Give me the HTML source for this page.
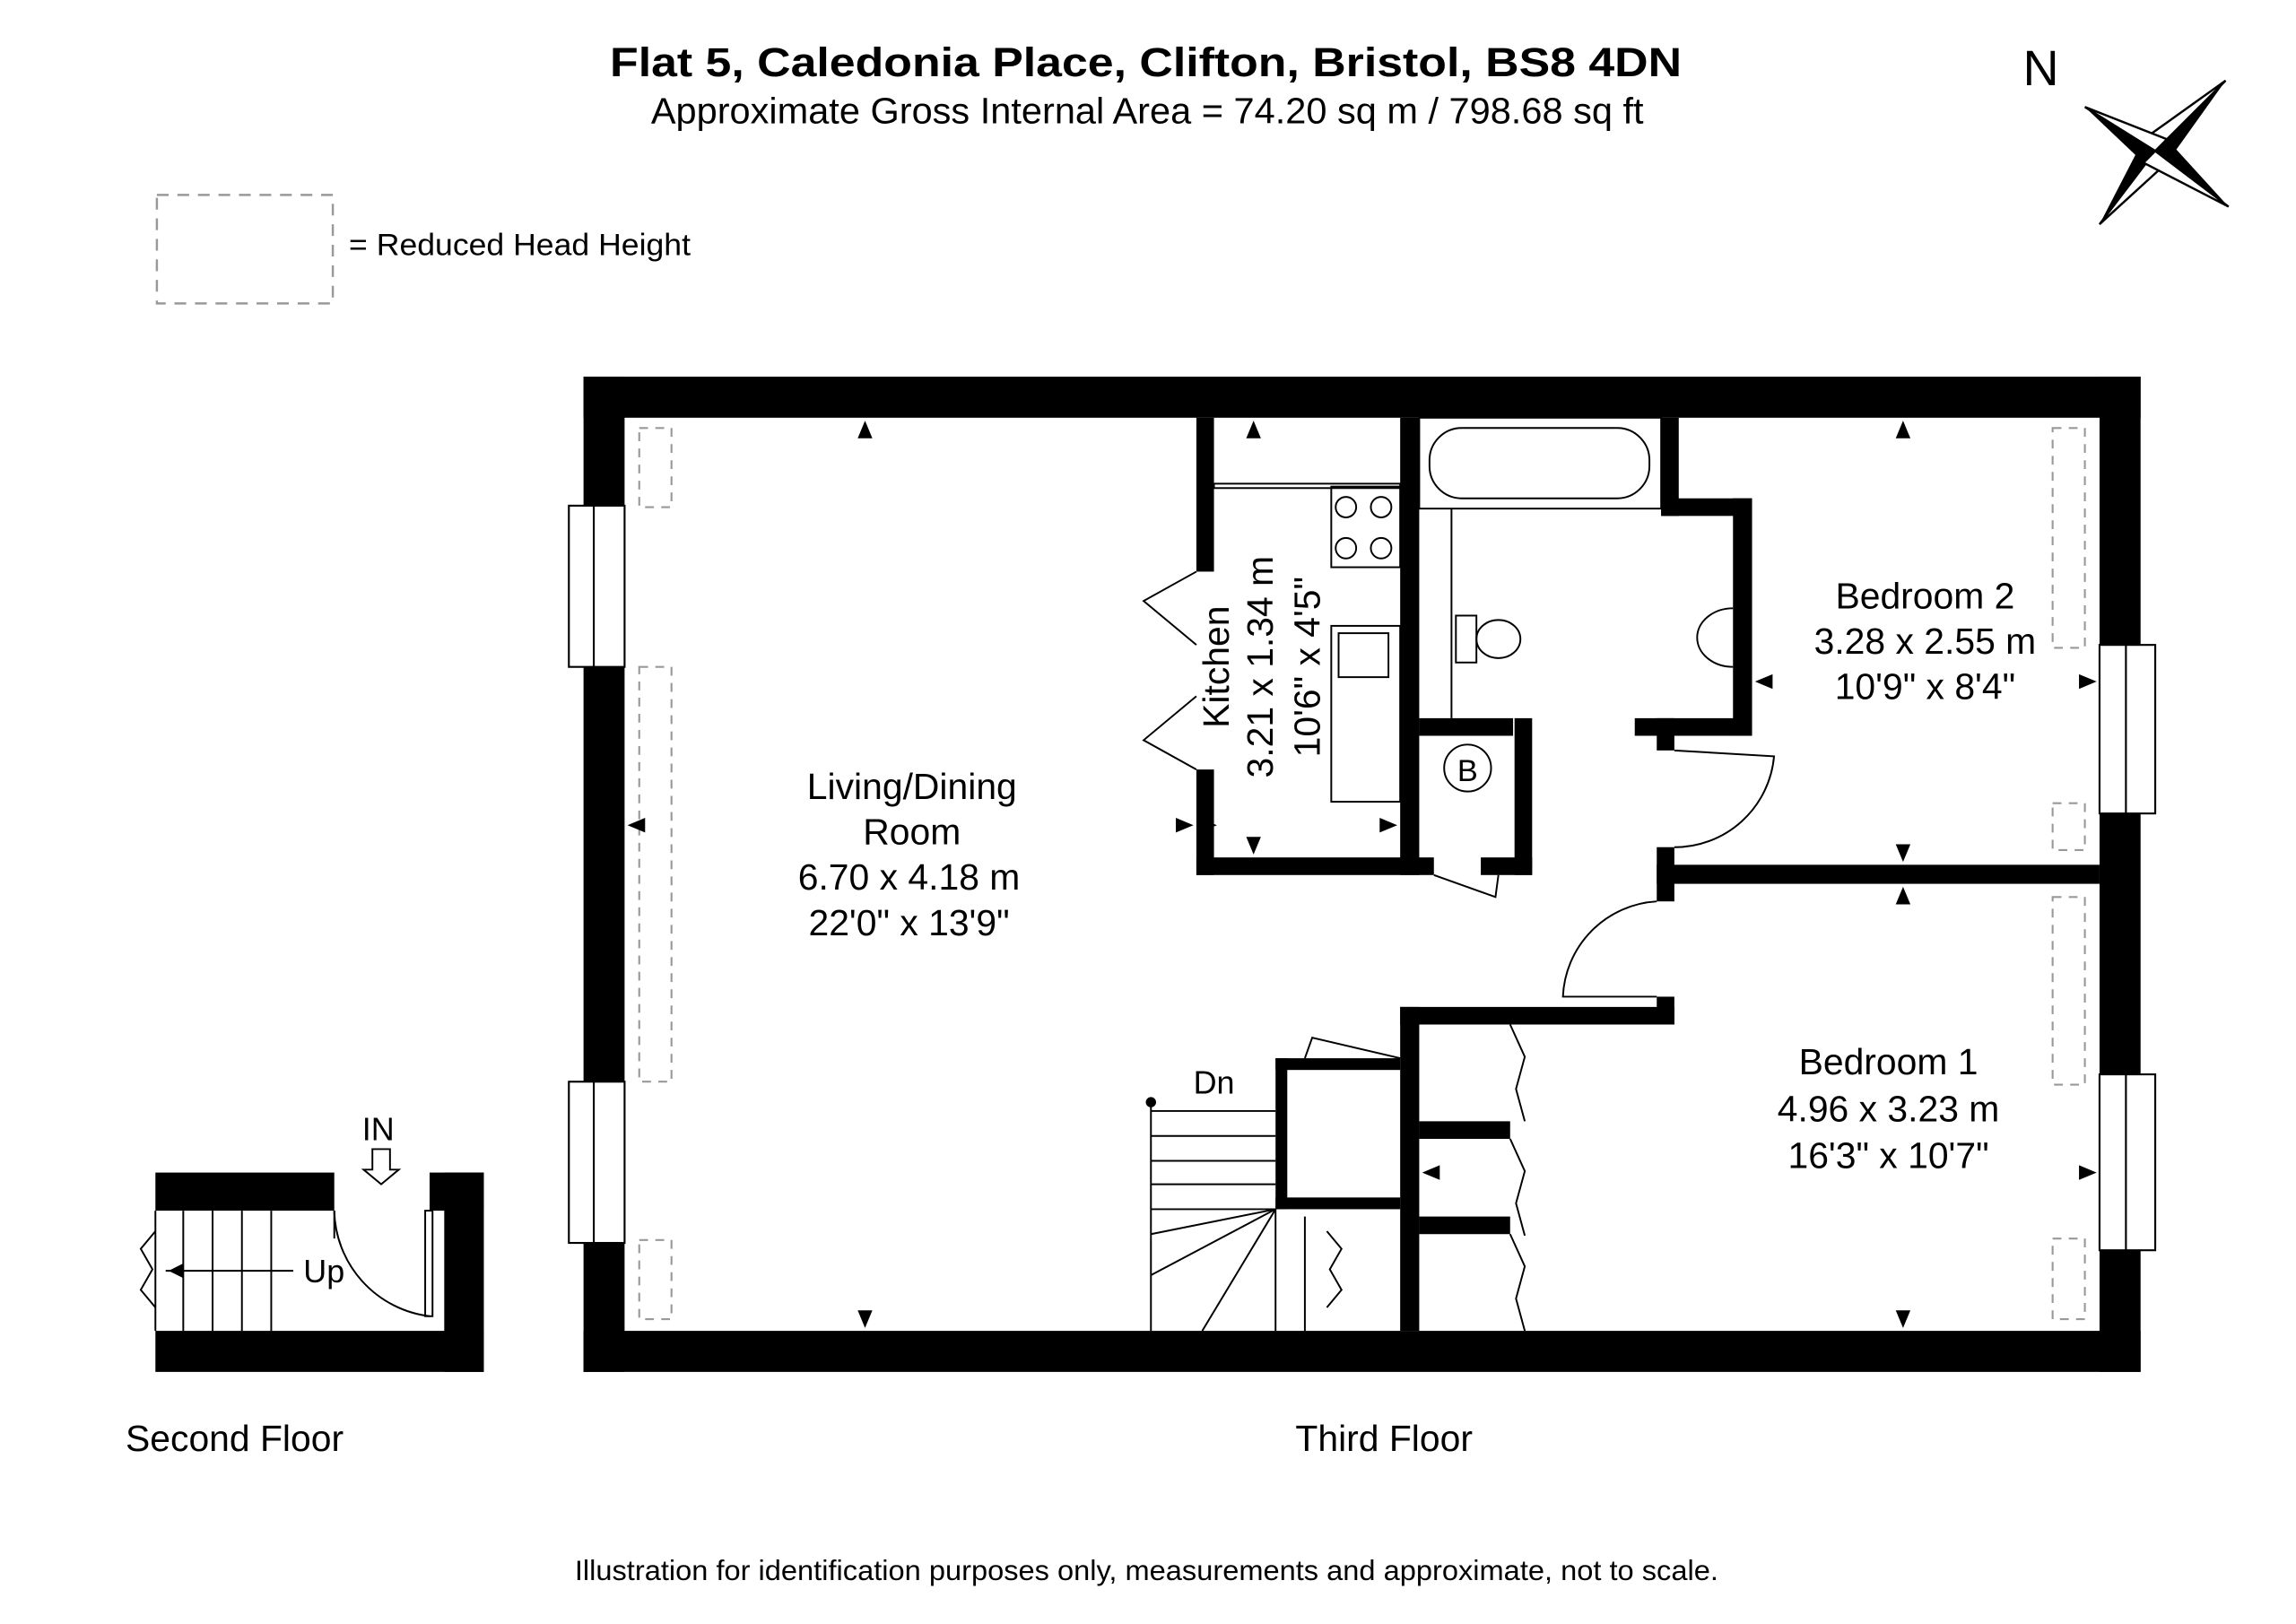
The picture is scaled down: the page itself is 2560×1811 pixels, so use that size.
<!DOCTYPE html>
<html><head><meta charset="utf-8"><style>
html,body{margin:0;padding:0;background:#fff;}
svg{display:block;}
text{font-family:"Liberation Sans",sans-serif;fill:#000;}
</style></head><body>
<svg width="2560" height="1811" viewBox="0 0 1566 1108" preserveAspectRatio="none" xmlns="http://www.w3.org/2000/svg">
<rect width="1566" height="1108" fill="#fff"/>
<text x="416" y="52" font-size="28" font-weight="bold" textLength="731" lengthAdjust="spacingAndGlyphs">Flat 5, Caledonia Place, Clifton, Bristol, BS8 4DN</text>
<text x="444" y="84" font-size="25" textLength="677" lengthAdjust="spacingAndGlyphs">Approximate Gross Internal Area = 74.20 sq m / 798.68 sq ft</text>
<text x="1392" y="58" font-size="34" text-anchor="middle">N</text>
<g transform="translate(1470,103)">
<polygon points="0,0 48,-48 8,8" fill="#000"/><polygon points="0,0 48,-48 -8,-8" fill="#fff" stroke="#000" stroke-width="1.5"/>
<polygon points="0,0 -38,50 -8,-8" fill="#000"/><polygon points="0,0 -38,50 8,8" fill="#fff" stroke="#000" stroke-width="1.5"/>
<polygon points="0,0 -48,-30 -8,8" fill="#000"/><polygon points="0,0 -48,-30 8,-8" fill="#fff" stroke="#000" stroke-width="1.5"/>
<polygon points="0,0 50,38 8,-8" fill="#000"/><polygon points="0,0 50,38 -8,8" fill="#fff" stroke="#000" stroke-width="1.5"/>
</g>
<rect x="107" y="133" width="120" height="74" fill="none" stroke="#999" stroke-width="1.5" stroke-dasharray="8,6"/>
<text x="238" y="174" font-size="21" textLength="233" lengthAdjust="spacingAndGlyphs">=  Reduced Head Height</text>

<g fill="#000">
<rect x="398" y="257" width="1062" height="28"/>
<rect x="398" y="908" width="1062" height="28"/>
<rect x="398" y="257" width="28" height="88"/>
<rect x="398" y="455" width="28" height="283"/>
<rect x="398" y="848" width="28" height="88"/>
<rect x="1432" y="257" width="28" height="183"/>
<rect x="1432" y="555" width="28" height="178"/>
<rect x="1432" y="853" width="28" height="83"/>
<rect x="816" y="285" width="12" height="105"/>
<rect x="816" y="525" width="12" height="72"/>
<rect x="816" y="585" width="162" height="12"/>
<rect x="955" y="285" width="13" height="312"/>
<rect x="968" y="490" width="64" height="12"/>
<rect x="1115" y="490" width="80" height="12"/>
<rect x="1182" y="340" width="13" height="162"/>
<rect x="1133" y="285" width="12" height="67"/>
<rect x="1133" y="340" width="62" height="12"/>
<rect x="1130" y="490" width="12" height="22"/>
<rect x="1033" y="490" width="12" height="107"/>
<rect x="1010" y="585" width="35" height="12"/>
<rect x="1130" y="578" width="12" height="37"/>
<rect x="1130" y="590" width="302" height="13"/>
<rect x="955" y="687" width="187" height="12"/>
<rect x="1130" y="680" width="12" height="19"/>
<rect x="955" y="687" width="13" height="221"/>
<rect x="968" y="765" width="62" height="12"/>
<rect x="968" y="830" width="62" height="12"/>
<rect x="870" y="722" width="85" height="8"/>
<rect x="870" y="722" width="8" height="103"/>
<rect x="870" y="817" width="85" height="8"/>
<rect x="106" y="800" width="122" height="26"/>
<rect x="293" y="800" width="37" height="26"/>
<rect x="303" y="800" width="27" height="136"/>
<rect x="106" y="908" width="224" height="28"/>
</g>
<g fill="#fff" stroke="#000" stroke-width="1.3">
<rect x="388" y="345" width="38" height="110"/><line x1="405" y1="345" x2="405" y2="455"/>
<rect x="388" y="738" width="38" height="110"/><line x1="405" y1="738" x2="405" y2="848"/>
<rect x="1432" y="440" width="38" height="115"/><line x1="1450" y1="440" x2="1450" y2="555"/>
<rect x="1432" y="733" width="38" height="120"/><line x1="1450" y1="733" x2="1450" y2="853"/>
</g>
<g fill="none" stroke="#999" stroke-width="1.3" stroke-dasharray="6,5">
<rect x="436" y="292" width="22" height="54"/>
<rect x="436" y="455" width="22" height="283"/>
<rect x="436" y="846" width="22" height="54"/>
<rect x="1400" y="292" width="22" height="150"/>
<rect x="1400" y="548" width="22" height="32"/>
<rect x="1400" y="612" width="22" height="128"/>
<rect x="1400" y="845" width="22" height="55"/>
</g>
<g fill="none" stroke="#000" stroke-width="1.2">
<rect x="968" y="285" width="165" height="62"/>
<rect x="975" y="292" width="150" height="48" rx="22"/>
<rect x="908" y="332" width="47" height="55"/>
<circle cx="918" cy="346" r="7"/><circle cx="942" cy="346" r="7"/><circle cx="918" cy="374" r="7"/><circle cx="942" cy="374" r="7"/>
<rect x="908" y="427" width="47" height="120"/>
<rect x="913" y="432" width="34" height="30"/>
<rect x="828" y="330" width="127" height="3"/>
<line x1="990" y1="347" x2="990" y2="490"/>
<rect x="993" y="420" width="14" height="32"/><ellipse cx="1022" cy="436" rx="15" ry="13"/>
<path d="M1182,415 a22,18 0 0 0 0,40"/>
<circle cx="1001" cy="524" r="16"/>
<path d="M816,390 L780,410 L816,440"/><path d="M816,525 L780,505 L816,475"/>
<path d="M1142,512 L1210,516 A68,68 0 0 1 1142,578"/>
<path d="M1130,615 A68,68 0 0 0 1066,680 L1130,680"/>
<path d="M978,597 L1020,612 L1022,597"/>
<path d="M890,722 L895,708 L955,722"/>
<path d="M1030,699 l10,22 -6,22 6,22"/><path d="M1030,777 l10,22 -6,22 6,22"/><path d="M1030,842 l10,22 -6,22 6,22"/>
<line x1="785" y1="752" x2="785" y2="908"/>
<line x1="785" y1="758" x2="870" y2="758"/>
<line x1="785" y1="775" x2="870" y2="775"/><line x1="785" y1="792" x2="870" y2="792"/>
<line x1="785" y1="808" x2="870" y2="808"/><line x1="785" y1="825" x2="870" y2="825"/>
<line x1="785" y1="842" x2="870" y2="825"/><line x1="785" y1="870" x2="870" y2="825"/>
<line x1="820" y1="908" x2="870" y2="825"/><line x1="870" y1="908" x2="870" y2="825"/>
<line x1="890" y1="830" x2="890" y2="908"/>
<path d="M905,840 l10,12 -8,14 8,14 -10,12"/>
<line x1="106" y1="826" x2="106" y2="908"/>
<line x1="125" y1="826" x2="125" y2="908"/><line x1="145" y1="826" x2="145" y2="908"/><line x1="165" y1="826" x2="165" y2="908"/><line x1="185" y1="826" x2="185" y2="908"/>
<line x1="113" y1="867" x2="200" y2="867"/>
<path d="M106,840 l-10,12 8,14 -8,14 10,12"/>
<path d="M228,826 A74,74 0 0 0 293,898"/>
<line x1="228" y1="826" x2="228" y2="845"/>
<rect x="290" y="826" width="5" height="72"/>
<path d="M254,784 L254,798 L248,798 L260,808 L272,798 L266,798 L266,784 Z"/>
</g>
<circle cx="785" cy="752" r="3.5" fill="#000"/>
<polygon points="125,862 125,872 115,867" fill="#000"/>
<g fill="#000">
<polygon points="590,287 585,299 595,299"/><polygon points="590,906 585,894 595,894"/>
<polygon points="428,563 440,558 440,568"/>
<polygon points="855,287 850,299 860,299"/><polygon points="855,583 850,571 860,571"/>
<polygon points="830,563 818,558 818,568"/><polygon points="814,563 802,558 802,568"/>
<polygon points="953,563 941,558 941,568"/>
<polygon points="1298,287 1293,299 1303,299"/><polygon points="1298,588 1293,576 1303,576"/>
<polygon points="1197,465 1209,460 1209,470"/><polygon points="1430,465 1418,460 1418,470"/>
<polygon points="1298,605 1293,617 1303,617"/><polygon points="1298,906 1293,894 1303,894"/>
<polygon points="970,800 982,795 982,805"/><polygon points="1430,800 1418,795 1418,805"/>
</g>
<g font-size="25" text-anchor="middle">
<text x="622" y="545">Living/Dining</text>
<text x="622" y="576">Room</text>
<text x="620" y="607">6.70 x 4.18 m</text>
<text x="620" y="638">22'0" x 13'9"</text>
<text x="1313" y="415">Bedroom 2</text>
<text x="1313" y="446">3.28 x 2.55 m</text>
<text x="1313" y="477">10'9" x 8'4"</text>
<text x="1288" y="733">Bedroom 1</text>
<text x="1288" y="765">4.96 x 3.23 m</text>
<text x="1288" y="797">16'3" x 10'7"</text>
<text transform="translate(838,455) rotate(-90)">Kitchen</text>
<text transform="translate(868,455) rotate(-90)">3.21 x 1.34 m</text>
<text transform="translate(900,455) rotate(-90)">10'6" x 4'5"</text>
<text x="1001" y="533" font-size="21">B</text>
<text x="828" y="746" font-size="22">Dn</text>
<text x="258" y="778" font-size="22">IN</text>
<text x="221" y="875" font-size="22">Up</text>
<text x="160" y="990">Second Floor</text>
<text x="944" y="990">Third Floor</text>
</g>
<text x="392" y="1078" font-size="19" textLength="780" lengthAdjust="spacingAndGlyphs">Illustration for identification purposes only, measurements and approximate, not to scale.</text>
</svg>
</body></html>
